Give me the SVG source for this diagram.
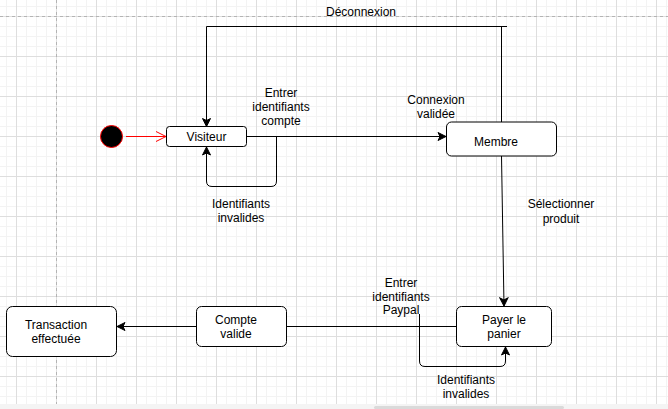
<svg xmlns="http://www.w3.org/2000/svg" width="668" height="409" viewBox="0 0 668 409">
<style>
.node rect{fill:#fff;stroke:#000;stroke-width:1}
text{font-family:"Liberation Sans",Arial,sans-serif;font-size:12px;fill:#000;text-anchor:middle}
.edge{fill:none;stroke:#000;stroke-width:1}
.red{fill:none;stroke:#ff0000;stroke-width:1}
.pb{stroke:#b4b4b4;stroke-width:1;stroke-dasharray:3 3}
</style>
<defs>
<pattern id="grid" x="16" y="16" width="40" height="40" patternUnits="userSpaceOnUse">
<rect x="10" y="0" width="1" height="40" fill="#f3f3f3"/>
<rect x="20" y="0" width="1" height="40" fill="#f3f3f3"/>
<rect x="30" y="0" width="1" height="40" fill="#f3f3f3"/>
<rect x="0" y="10" width="40" height="1" fill="#f3f3f3"/>
<rect x="0" y="20" width="40" height="1" fill="#f3f3f3"/>
<rect x="0" y="30" width="40" height="1" fill="#f3f3f3"/>
<rect x="0" y="0" width="1" height="40" fill="#dedede"/>
<rect x="0" y="0" width="40" height="1" fill="#dedede"/>
</pattern>
<marker id="arr" viewBox="0 0 10 10" refX="9" refY="5" markerWidth="10" markerHeight="10" markerUnits="userSpaceOnUse" orient="auto">
<path d="M1,1 L9,5 L1,9 L3,5 z" fill="#000" stroke="#000" stroke-width="1"/>
</marker>
<marker id="open" viewBox="0 0 12 12" refX="11" refY="6" markerWidth="12" markerHeight="12" markerUnits="userSpaceOnUse" orient="auto">
<path d="M1,1 L11,6 L1,11" fill="none" stroke="#ff0000" stroke-width="1"/>
</marker>
</defs>
<g id="background">
<rect width="668" height="409" fill="#fff"/>
<rect width="668" height="409" fill="url(#grid)"/>
<line class="pb" x1="0" y1="16.5" x2="668" y2="16.5"/>
<line class="pb" x1="56.5" y1="0" x2="56.5" y2="404"/>
</g>
<g id="connectors">
<line class="red" x1="126" y1="136.5" x2="166" y2="136.5" marker-end="url(#open)"/>
<line class="edge" x1="246.5" y1="136.5" x2="446" y2="136.5" marker-end="url(#arr)"/>
<path class="edge" d="M276.5,136.5 V181 Q276.5,186.5 271,186.5 H212 Q206.5,186.5 206.5,181 V147" marker-end="url(#arr)"/>
<line class="edge" x1="206.5" y1="26.5" x2="507" y2="26.5"/>
<line class="edge" x1="501.5" y1="26.5" x2="501.5" y2="122"/>
<line class="edge" x1="206.5" y1="26.5" x2="206.5" y2="126.5" marker-end="url(#arr)"/>
<line class="edge" x1="501.5" y1="156" x2="504" y2="306" marker-end="url(#arr)"/>
<path class="edge" d="M419.5,314 V361 Q419.5,366.5 425,366.5 H500 Q505.5,366.5 505.5,361 V347" marker-end="url(#arr)"/>
<line class="edge" x1="456.5" y1="326.5" x2="286.5" y2="326.5"/>
<line class="edge" x1="196.5" y1="326.5" x2="117" y2="326.5" marker-end="url(#arr)"/>
<text x="361" y="16">Déconnexion</text>
<text x="281" y="97">Entrer</text>
<text x="281" y="111">identifiants</text>
<text x="281" y="125">compte</text>
<text x="436" y="104">Connexion</text>
<text x="436" y="118">validée</text>
<text x="241" y="208">Identifiants</text>
<text x="241" y="222">invalides</text>
<text x="561" y="208">Sélectionner</text>
<text x="561" y="223">produit</text>
<text x="401" y="287">Entrer</text>
<text x="401" y="301">identifiants</text>
<text x="401" y="314">Paypal</text>
<text x="466" y="384">Identifiants</text>
<text x="466" y="398">invalides</text>
</g>
<g id="start">
<circle cx="111.5" cy="136.5" r="11" fill="#000" stroke="#ff0000" stroke-width="1"/>
</g>
<g id="visiteur" class="node">
<rect x="166.5" y="126.5" width="80" height="20" rx="3"/>
<text x="206.5" y="141">Visiteur</text>
</g>
<g id="membre" class="node">
<rect x="446.5" y="122" width="110" height="34" rx="5"/>
<text x="496" y="146">Membre</text>
</g>
<g id="payer" class="node">
<rect x="456.5" y="306.5" width="95" height="40" rx="5"/>
<text x="504" y="324">Payer le</text>
<text x="504" y="338">panier</text>
</g>
<g id="compte" class="node">
<rect x="196.5" y="306.5" width="90" height="40" rx="5"/>
<text x="236" y="324">Compte</text>
<text x="236" y="338">valide</text>
</g>
<g id="transaction" class="node">
<rect x="6.5" y="306.5" width="110" height="50" rx="6"/>
<text x="56" y="329">Transaction</text>
<text x="56" y="343">effectuée</text>
</g>
<g id="scrollbar">
<rect x="0" y="404" width="668" height="5" fill="#f4f4f4"/>
<rect x="374" y="406" width="190" height="3" rx="1.5" fill="#dadada"/>
</g>
</svg>
